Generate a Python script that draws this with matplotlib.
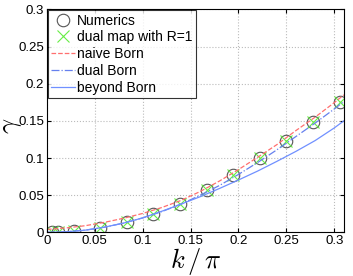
import numpy as np
import matplotlib
matplotlib.use('Agg')
import matplotlib.pyplot as plt
from matplotlib.ticker import FuncFormatter

# numerics (circles) and dual map R=1 (crosses)
k_pts = [0.0056, 0.0111, 0.0278, 0.0556, 0.0833, 0.111, 0.139, 0.167,
         0.194, 0.222, 0.25, 0.278, 0.306]
gamma_num = [0.0001, 0.0002, 0.0014, 0.0062, 0.0143, 0.0248, 0.0388,
             0.0565, 0.0775, 0.0995, 0.1225, 0.148, 0.176]
gamma_dual_map = gamma_num

# theory curves
k_line = [0, 0.02, 0.04, 0.06, 0.08, 0.10, 0.12, 0.14, 0.16, 0.18, 0.20,
          0.22, 0.24, 0.26, 0.28, 0.30, 0.31]
naive_born = [0.004, 0.006, 0.009, 0.0135, 0.019, 0.0255, 0.0335, 0.043,
              0.055, 0.069, 0.0845, 0.101, 0.118, 0.137, 0.155, 0.1745, 0.185]
dual_born = [0, 0.0008, 0.003, 0.007, 0.0125, 0.0195, 0.028, 0.038, 0.050,
             0.063, 0.078, 0.094, 0.111, 0.129, 0.147, 0.166, 0.176]
beyond_born = [0, 0.0008, 0.003, 0.007, 0.0125, 0.0195, 0.0285, 0.038,
               0.048, 0.059, 0.0705, 0.0825, 0.0955, 0.109, 0.1235, 0.1405, 0.150]

plt.rcParams['font.family'] = ['Liberation Sans', 'DejaVu Sans']
plt.rcParams['mathtext.fontset'] = 'cm'

fig = plt.figure(figsize=(3.53, 2.76), dpi=100)
ax = fig.add_axes([0.133, 0.158, 0.841, 0.808])

ax.plot(k_pts, gamma_num, 'o', mfc='none', mec='#555555', ms=9, mew=0.8,
        label='Numerics')
ax.plot(k_pts, gamma_dual_map, 'x', color='#66ee44', ms=8, mew=0.8,
        label='dual map with R=1')
ax.plot(k_line, naive_born, '--', color='#ff6f6f', lw=0.9, label='naive Born')
ax.plot(k_line, dual_born, '-.', color='#6680ee', lw=0.9, label='dual Born')
ax.plot(k_line, beyond_born, '-', color='#7090ff', lw=0.9, label='beyond Born')

ax.set_xlim(0, 0.31)
ax.set_ylim(0, 0.3)
ax.set_xticks(np.arange(0, 0.31, 0.05))
ax.set_yticks(np.arange(0, 0.31, 0.05))
fmt = FuncFormatter(lambda v, p: '%g' % round(v, 3))
ax.xaxis.set_major_formatter(fmt)
ax.yaxis.set_major_formatter(fmt)
ax.tick_params(direction='in', top=True, right=True, labelsize=9.5, length=3,
               pad=2)
ax.grid(True, ls=':', color='#bbbbbb', lw=0.8)

ax.set_xlabel(r'$k\,/\,\pi$', fontsize=19)
ax.xaxis.set_label_coords(0.5, -0.062)
ax.xaxis.label.set_va('top')
ax.set_ylabel(r'$\gamma$', fontsize=19)
ax.yaxis.set_label_coords(-0.077, 0.48)

leg = ax.legend(loc='upper left', fontsize=10, frameon=True, fancybox=False,
                borderpad=0.25, labelspacing=0.2, handlelength=1.7,
                handletextpad=0.15, borderaxespad=0.05)
leg.get_frame().set_edgecolor('black')
leg.get_frame().set_linewidth(0.8)

fig.savefig('out.png', dpi=100)
